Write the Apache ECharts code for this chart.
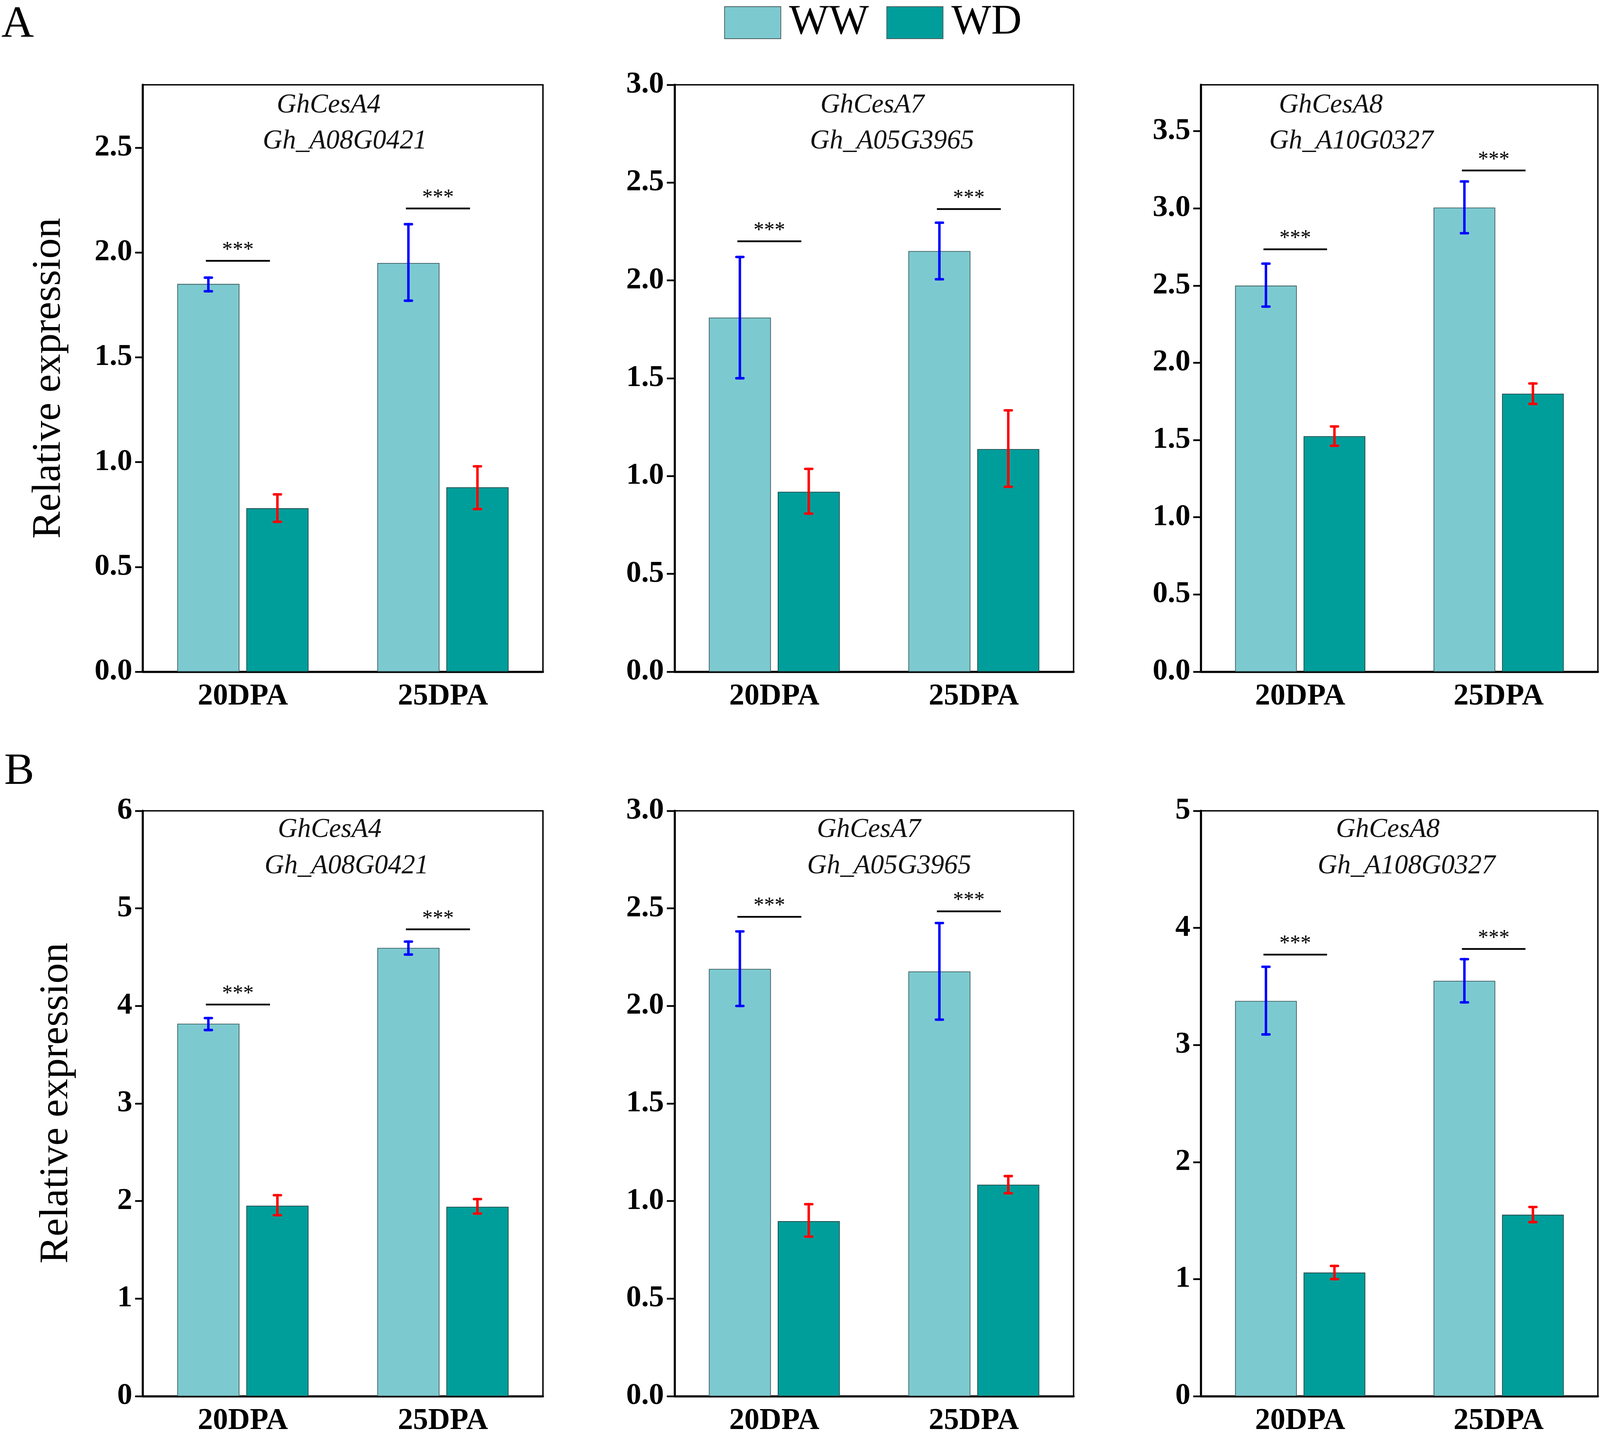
<!DOCTYPE html>
<html><head><meta charset="utf-8">
<script src="https://cdn.jsdelivr.net/npm/echarts@6/dist/echarts.min.js"></script>
<style>html,body{margin:0;padding:0;background:#fff;overflow:hidden}#c{width:100vw;height:100vh}</style>
</head><body><div id="c"></div>
<script>
// ---------------- DATA ----------------
const categories = ['20DPA', '25DPA'];
const seriesNames = ['WW', 'WD'];

// Panel A1 : GhCesA4 / Gh_A08G0421
const a1Gene = ['GhCesA4', 'Gh_A08G0421'];
const a1WW = [1.85, 1.95];
const a1WWErr = [[1.815, 1.88], [1.77, 2.135]];
const a1WD = [0.78, 0.88];
const a1WDErr = [[0.715, 0.846], [0.776, 0.98]];
const a1Sig = [1.96, 2.21];
const a1Ticks = [0, 0.5, 1.0, 1.5, 2.0, 2.5];
const a1Max = 2.8;

// Panel A2 : GhCesA7 / Gh_A05G3965
const a2Gene = ['GhCesA7', 'Gh_A05G3965'];
const a2WW = [1.81, 2.15];
const a2WWErr = [[1.50, 2.12], [2.006, 2.295]];
const a2WD = [0.92, 1.138];
const a2WDErr = [[0.808, 1.037], [0.945, 1.336]];
const a2Sig = [2.20, 2.365];
const a2Ticks = [0, 0.5, 1.0, 1.5, 2.0, 2.5, 3.0];
const a2Max = 3.0;

// Panel A3 : GhCesA8 / Gh_A10G0327
const a3Gene = ['GhCesA8', 'Gh_A10G0327'];
const a3WW = [2.50, 3.005];
const a3WWErr = [[2.364, 2.642], [2.839, 3.174]];
const a3WD = [1.525, 1.80];
const a3WDErr = [[1.463, 1.588], [1.734, 1.866]];
const a3Sig = [2.735, 3.245];
const a3Ticks = [0, 0.5, 1.0, 1.5, 2.0, 2.5, 3.0, 3.5];
const a3Max = 3.8;

// Panel B1 : GhCesA4 / Gh_A08G0421
const b1Gene = ['GhCesA4', 'Gh_A08G0421'];
const b1WW = [3.818, 4.595];
const b1WWErr = [[3.753, 3.876], [4.527, 4.66]];
const b1WD = [1.953, 1.942];
const b1WDErr = [[1.855, 2.06], [1.872, 2.02]];
const b1Sig = [4.014, 4.785];
const b1Ticks = [0, 1, 2, 3, 4, 5, 6];
const b1Max = 6;

// Panel B2 : GhCesA7 / Gh_A05G3965
const b2Gene = ['GhCesA7', 'Gh_A05G3965'];
const b2WW = [2.19, 2.177];
const b2WWErr = [[2.0, 2.382], [1.93, 2.425]];
const b2WD = [0.897, 1.084];
const b2WDErr = [[0.818, 0.984], [1.04, 1.128]];
const b2Sig = [2.457, 2.485];
const b2Ticks = [0, 0.5, 1.0, 1.5, 2.0, 2.5, 3.0];
const b2Max = 3.0;

// Panel B3 : GhCesA8 / Gh_A108G0327
const b3Gene = ['GhCesA8', 'Gh_A108G0327'];
const b3WW = [3.376, 3.548];
const b3WWErr = [[3.09, 3.668], [3.364, 3.733]];
const b3WD = [1.056, 1.55];
const b3WDErr = [[1.0, 1.113], [1.487, 1.616]];
const b3Sig = [3.772, 3.82];
const b3Ticks = [0, 1, 2, 3, 4, 5];
const b3Max = 5;

const sigLabel = '***';
const yTitle = 'Relative expression';
const panelLetters = ['A', 'B'];

// ---------------- LAYOUT / STYLE (design space 4547 x 3680) ----------------
const chart = echarts.init(document.getElementById('c'), null, { renderer: 'canvas' });
const CW = chart.getWidth(), CH = chart.getHeight();
const SX = CW / 4547, SY = CH / 3680, FS = Math.min(SX, SY);
function X(v) { return v * SX; }
function Y(v) { return v * SY; }
function F(v) { return v * FS; }

const COL_LEFT = [406, 1917, 3413];
const COL_WIDTH = [1137, 1134, 1128];
const ROW_TOP = [217, 2075];
const ROW_HEIGHT = [1502, 1498];
const BAR_FRAC = 0.311;
const GAP_FRAC = 0.11;
const C_WW = '#7ccad0';
const C_WD = '#009e9b';
const SERIF = '"Liberation Serif", "Times New Roman", serif';

const panels = [
  { gene: a1Gene, ww: a1WW, wwErr: a1WWErr, wd: a1WD, wdErr: a1WDErr, sig: a1Sig, ticks: a1Ticks, max: a1Max, dec: 1,
    titlePos: [[934, 270], [980, 362]] },
  { gene: a2Gene, ww: a2WW, wwErr: a2WWErr, wd: a2WD, wdErr: a2WDErr, sig: a2Sig, ticks: a2Ticks, max: a2Max, dec: 1,
    titlePos: [[2479, 270], [2535, 362]] },
  { gene: a3Gene, ww: a3WW, wwErr: a3WWErr, wd: a3WD, wdErr: a3WDErr, sig: a3Sig, ticks: a3Ticks, max: a3Max, dec: 1,
    titlePos: [[3782, 270], [3840, 362]] },
  { gene: b1Gene, ww: b1WW, wwErr: b1WWErr, wd: b1WD, wdErr: b1WDErr, sig: b1Sig, ticks: b1Ticks, max: b1Max, dec: 0,
    titlePos: [[937, 2124], [985, 2217]] },
  { gene: b2Gene, ww: b2WW, wwErr: b2WWErr, wd: b2WD, wdErr: b2WDErr, sig: b2Sig, ticks: b2Ticks, max: b2Max, dec: 1,
    titlePos: [[2469, 2124], [2527, 2217]] },
  { gene: b3Gene, ww: b3WW, wwErr: b3WWErr, wd: b3WD, wdErr: b3WDErr, sig: b3Sig, ticks: b3Ticks, max: b3Max, dec: 0,
    titlePos: [[3944, 2124], [3997, 2217]] }
];

function offsets(api) {
  const band = api.size([1, 0])[0];
  const bw = band * BAR_FRAC;
  const gap = bw * GAP_FRAC;
  return { bw: bw, half: (bw + gap) / 2 };
}

function errRender(side, color) {
  return function (params, api) {
    const cat = api.value(0), lo = api.value(1), hi = api.value(2);
    const o = offsets(api);
    const pLo = api.coord([cat, lo]);
    const pHi = api.coord([cat, hi]);
    const x = pLo[0] + side * o.half;
    const cw = F(10);
    const st = { stroke: color, lineWidth: F(7), lineCap: 'round' };
    return {
      type: 'group',
      children: [
        { type: 'line', shape: { x1: x, y1: pLo[1], x2: x, y2: pHi[1] }, style: st },
        { type: 'line', shape: { x1: x - cw, y1: pHi[1], x2: x + cw, y2: pHi[1] }, style: st },
        { type: 'line', shape: { x1: x - cw, y1: pLo[1], x2: x + cw, y2: pLo[1] }, style: st }
      ]
    };
  };
}

function sigRender(params, api) {
  const cat = api.value(0), y = api.value(1);
  const o = offsets(api);
  const p = api.coord([cat, y]);
  const x1 = p[0] - o.half - 0.04 * o.bw;
  const x2 = p[0] + o.half - 0.12 * o.bw;
  return {
    type: 'group',
    children: [
      { type: 'line', shape: { x1: x1, y1: p[1], x2: x2, y2: p[1] }, style: { stroke: '#000', lineWidth: F(5) } },
      { type: 'text', x: (x1 + x2) / 2, y: p[1] - F(30),
        style: { text: sigLabel, fill: '#000', font: F(60) + 'px ' + SERIF, align: 'center', verticalAlign: 'middle' } }
    ]
  };
}

const grids = [], xAxes = [], yAxes = [], series = [], graphics = [];

panels.forEach(function (pn, i) {
  const row = Math.floor(i / 3), col = i % 3;
  grids.push({
    left: X(COL_LEFT[col]), top: Y(ROW_TOP[row]), width: X(COL_WIDTH[col]), height: Y(ROW_HEIGHT[row]),
    show: true, borderColor: '#000', borderWidth: F(4), backgroundColor: 'transparent'
  });
  xAxes.push({
    type: 'category', gridIndex: i, data: categories,
    axisLine: { lineStyle: { color: '#000', width: F(6) } },
    axisTick: { show: false },
    axisLabel: { color: '#000', fontFamily: SERIF, fontWeight: 'bold', fontSize: F(86), margin: F(28) },
    splitLine: { show: false }
  });
  const dec = pn.dec;
  yAxes.push({
    type: 'value', gridIndex: i, min: 0, max: pn.max, interval: dec ? 0.5 : 1,
    axisLine: { show: true, lineStyle: { color: '#000', width: F(6) } },
    axisTick: { show: true, inside: false, length: F(22), lineStyle: { color: '#000', width: F(5) }, customValues: pn.ticks },
    axisLabel: {
      color: '#000', fontFamily: SERIF, fontWeight: 'bold', fontSize: F(86), margin: F(30),
      customValues: pn.ticks,
      formatter: function (v) {
        const ok = pn.ticks.some(function (t) { return Math.abs(t - v) < 1e-9; });
        return ok ? v.toFixed(dec) : '';
      }
    },
    splitLine: { show: false }
  });
  const common = {
    type: 'bar', xAxisIndex: i, yAxisIndex: i, barWidth: (BAR_FRAC * 100) + '%', barGap: (GAP_FRAC * 100) + '%',
    emphasis: { disabled: true }
  };
  series.push(Object.assign({}, common, {
    name: seriesNames[0], data: pn.ww,
    itemStyle: { color: C_WW, borderColor: '#3d5c5f', borderWidth: F(2) }
  }));
  series.push(Object.assign({}, common, {
    name: seriesNames[1], data: pn.wd,
    itemStyle: { color: C_WD, borderColor: '#1f4747', borderWidth: F(2) }
  }));
  series.push({
    type: 'custom', xAxisIndex: i, yAxisIndex: i, z: 5, silent: true,
    renderItem: errRender(-1, '#0000ff'),
    encode: { x: 0, y: [1, 2] },
    data: pn.wwErr.map(function (e, k) { return [k, e[0], e[1]]; })
  });
  series.push({
    type: 'custom', xAxisIndex: i, yAxisIndex: i, z: 5, silent: true,
    renderItem: errRender(1, '#ff0000'),
    encode: { x: 0, y: [1, 2] },
    data: pn.wdErr.map(function (e, k) { return [k, e[0], e[1]]; })
  });
  series.push({
    type: 'custom', xAxisIndex: i, yAxisIndex: i, z: 5, silent: true,
    renderItem: sigRender,
    encode: { x: 0, y: 1 },
    data: pn.sig.map(function (s, k) { return [k, s]; })
  });
  pn.gene.forEach(function (g, k) {
    graphics.push({
      type: 'text', x: X(pn.titlePos[k][0]), y: Y(pn.titlePos[k][1]), z: 10,
      style: { text: g, fill: '#111', font: 'italic ' + F(77) + 'px ' + SERIF, align: 'center', verticalAlign: 'middle' }
    });
  });
});

// y-axis titles
graphics.push({ type: 'text', x: X(139), y: Y(968), rotation: Math.PI / 2, z: 10,
  style: { text: yTitle, fill: '#000', font: F(116) + 'px ' + SERIF, align: 'center', verticalAlign: 'middle' } });
graphics.push({ type: 'text', x: X(160), y: Y(2823), rotation: Math.PI / 2, z: 10,
  style: { text: yTitle, fill: '#000', font: F(116) + 'px ' + SERIF, align: 'center', verticalAlign: 'middle' } });
// panel letters
graphics.push({ type: 'text', x: X(4), y: Y(6), z: 10,
  style: { text: panelLetters[0], fill: '#000', font: F(128) + 'px ' + SERIF, align: 'left', verticalAlign: 'top' } });
graphics.push({ type: 'text', x: X(12), y: Y(1918), z: 10,
  style: { text: panelLetters[1], fill: '#000', font: F(128) + 'px ' + SERIF, align: 'left', verticalAlign: 'top' } });

chart.setOption({
  animation: false,
  backgroundColor: '#fff',
  legend: {
    data: seriesNames, left: X(2058), top: Y(4), padding: 0,
    itemWidth: X(160), itemHeight: Y(82), itemGap: X(50), icon: 'rect',
    itemStyle: { borderColor: '#4a5a5a', borderWidth: F(2) },
    textStyle: { fontFamily: SERIF, fontSize: F(120), color: '#000', padding: [0, 0, 0, X(18)] },
    selectedMode: false
  },
  grid: grids,
  xAxis: xAxes,
  yAxis: yAxes,
  series: series,
  graphic: graphics
});
</script>
</body></html>
